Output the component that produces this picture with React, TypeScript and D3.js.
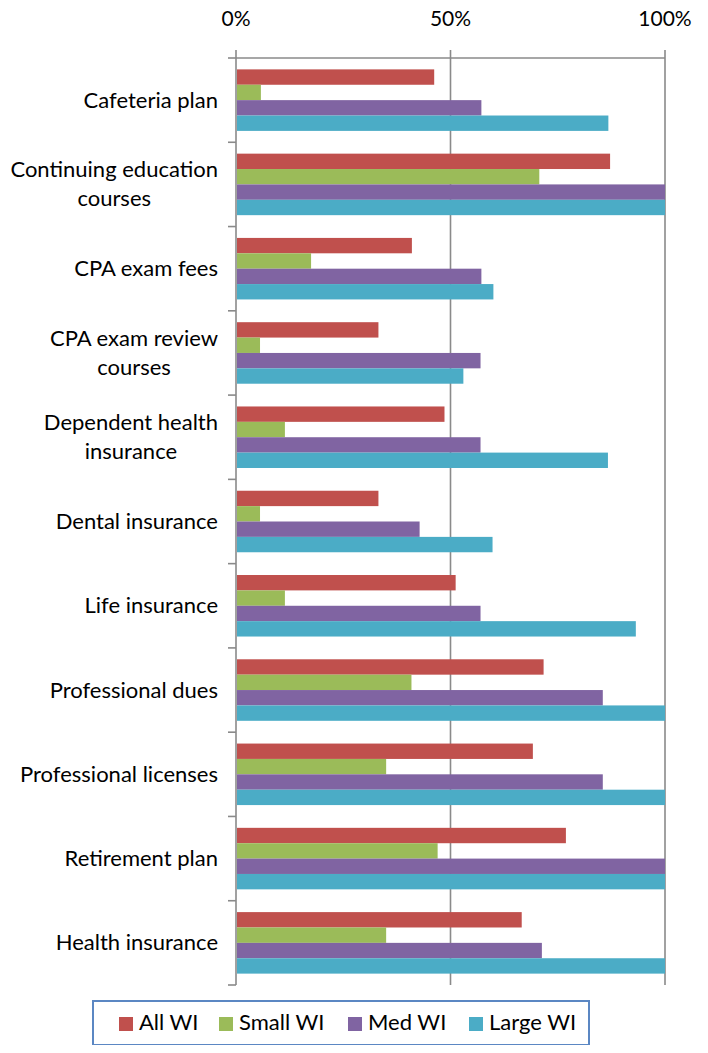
import { useEffect, useRef } from "react";
import * as d3 from "d3";

const categories = [
  "Cafeteria plan",
  "Continuing education courses",
  "CPA exam fees",
  "CPA exam review courses",
  "Dependent health insurance",
  "Dental insurance",
  "Life insurance",
  "Professional dues",
  "Professional licenses",
  "Retirement plan",
  "Health insurance",
];

// how each category label wraps on the axis
const labelLines = [
  ["Cafeteria plan"],
  ["Continuing education", "courses"],
  ["CPA exam fees"],
  ["CPA exam review", "courses"],
  ["Dependent health", "insurance"],
  ["Dental insurance"],
  ["Life insurance"],
  ["Professional dues"],
  ["Professional licenses"],
  ["Retirement plan"],
  ["Health insurance"],
];

const seriesNames = ["All WI", "Small WI", "Med WI", "Large WI"];
const seriesColors = ["#C0504D", "#9BBB59", "#8064A2", "#4BACC6"];

const allWI = [0.462, 0.872, 0.41, 0.332, 0.486, 0.332, 0.512, 0.717, 0.692, 0.769, 0.666];
const smallWI = [0.058, 0.707, 0.175, 0.056, 0.114, 0.056, 0.114, 0.409, 0.35, 0.47, 0.35];
const medWI = [0.572, 1.0, 0.572, 0.57, 0.57, 0.428, 0.57, 0.855, 0.855, 1.0, 0.713];
const largeWI = [0.868, 1.0, 0.6, 0.53, 0.867, 0.598, 0.932, 1.0, 1.0, 1.0, 1.0];

const xTicks = [0, 0.5, 1];

const FONT = "Lato, 'Open Sans', sans-serif";

const BenefitsChart = () => {
  const svgRef = useRef<SVGSVGElement>(null);

  useEffect(() => {
    if (!svgRef.current) return;
    const svg = d3.select(svgRef.current);
    svg.selectAll("*").remove();

    const left = 236;
    const right = 665;
    const top = 58;
    const bottom = 985;
    const gridColor = "#8a8a8a";

    const x = d3.scaleLinear().domain([0, 1]).range([left, right]);
    const y = d3
      .scaleBand<string>()
      .domain(categories)
      .range([top, bottom])
      .paddingInner(0.27)
      .paddingOuter(0.135);
    const ySub = d3.scaleBand<string>().domain(seriesNames).range([0, y.bandwidth()]);

    const values = [allWI, smallWI, medWI, largeWI];

    // vertical gridlines + top tick marks
    svg
      .append("g")
      .selectAll("line")
      .data(xTicks)
      .join("line")
      .attr("x1", (d) => x(d))
      .attr("x2", (d) => x(d))
      .attr("y1", top - 8)
      .attr("y2", bottom)
      .attr("stroke", gridColor)
      .attr("stroke-width", 1.6);

    // top axis line
    svg
      .append("line")
      .attr("x1", left)
      .attr("x2", right)
      .attr("y1", top)
      .attr("y2", top)
      .attr("stroke", gridColor)
      .attr("stroke-width", 1.6);

    // category boundary ticks
    const bounds = d3.range(categories.length + 1).map((i) => top + (i * (bottom - top)) / categories.length);
    svg
      .append("g")
      .selectAll("line")
      .data(bounds)
      .join("line")
      .attr("x1", left - 8)
      .attr("x2", left)
      .attr("y1", (d) => d)
      .attr("y2", (d) => d)
      .attr("stroke", gridColor)
      .attr("stroke-width", 1.6);

    // bars
    const barData = categories.flatMap((c, i) =>
      seriesNames.map((s, j) => ({ c, s, v: values[j][i], color: seriesColors[j] }))
    );
    svg
      .append("g")
      .selectAll("rect")
      .data(barData)
      .join("rect")
      .attr("x", x(0) + 1)
      .attr("y", (d) => y(d.c)! + ySub(d.s)!)
      .attr("width", (d) => Math.max(0, x(d.v) - x(0) - 1))
      .attr("height", ySub.bandwidth())
      .attr("fill", (d) => d.color);

    // x tick labels
    svg
      .append("g")
      .selectAll("text")
      .data(xTicks)
      .join("text")
      .attr("x", (d) => x(d))
      .attr("y", 26)
      .attr("text-anchor", "middle")
      .style("font-family", FONT)
      .style("font-size", "21px")
      .style("fill", "#000")
      .text((d) => d3.format(".0%")(d));

    // category labels, multi-line centered within their block
    const labelRight = 218;
    const lineGap = 29;
    categories.forEach((c, i) => {
      const lines = labelLines[i];
      const cy = y(c)! + y.bandwidth() / 2 + 7.5;
      const g = svg.append("g");
      const texts = lines.map((ln, k) =>
        g
          .append("text")
          .attr("y", cy + (k - (lines.length - 1) / 2) * lineGap)
          .attr("text-anchor", "middle")
          .style("font-family", FONT)
          .style("font-size", "22px")
          .style("fill", "#000")
          .text(ln)
      );
      const widths = texts.map((t) => (t.node() as SVGTextElement).getComputedTextLength());
      const maxW = d3.max(widths) ?? 0;
      texts.forEach((t) => t.attr("x", labelRight - maxW / 2));
    });

    // legend
    const legend = svg.append("g");
    legend
      .append("rect")
      .attr("x", 93)
      .attr("y", 1001)
      .attr("width", 496)
      .attr("height", 44)
      .attr("fill", "#fff")
      .attr("stroke", "#5B87C3")
      .attr("stroke-width", 2);
    const legendX = [119, 219, 348, 469];
    seriesNames.forEach((s, j) => {
      legend
        .append("rect")
        .attr("x", legendX[j])
        .attr("y", 1017)
        .attr("width", 14)
        .attr("height", 14)
        .attr("fill", seriesColors[j]);
      legend
        .append("text")
        .attr("x", legendX[j] + 20)
        .attr("y", 1030)
        .style("font-family", FONT)
        .style("font-size", "22px")
        .style("fill", "#000")
        .text(s);
    });
  }, []);

  return <svg ref={svgRef} width={708} height={1053} style={{ display: "block" }} />;
};

export default function App() {
  return (
    <div style={{ margin: -8, background: "#fff" }}>
      <BenefitsChart />
    </div>
  );
}
